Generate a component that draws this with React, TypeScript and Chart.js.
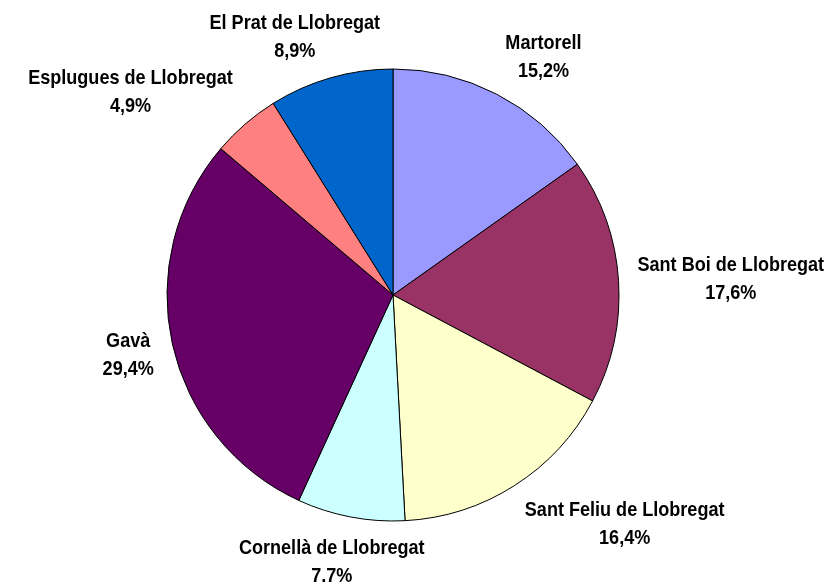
import React, { useEffect, useRef } from "react";
import { Chart, registerables } from "chart.js";

Chart.register(...registerables);

const categories = [
  "Martorell",
  "Sant Boi de Llobregat",
  "Sant Feliu de Llobregat",
  "Cornellà de Llobregat",
  "Gavà",
  "Esplugues de Llobregat",
  "El Prat de Llobregat",
];
const shares = [15.2, 17.6, 16.4, 7.7, 29.4, 4.9, 8.9];
const sliceColors = ["#9999FF", "#993366", "#FFFFCC", "#CCFFFF", "#660066", "#FF8080", "#0066CC"];

const FONT_PX = 21;
const FONT = `bold ${FONT_PX}px "Liberation Sans", Arial, sans-serif`;
const NARROW = 0.86;

const labelPlugin = {
  id: "outsideLabels",
  afterDatasetsDraw(chart: any) {
    const ctx = chart.ctx;
    const meta = chart.getDatasetMeta(0);
    const total = shares.reduce((a, b) => a + b, 0);
    ctx.save();
    ctx.font = FONT;
    ctx.fillStyle = "#000";
    ctx.textAlign = "center";
    ctx.textBaseline = "alphabetic";
    const lineGap = 28;
    const capHalf = FONT_PX * 0.358;
    meta.data.forEach((arc: any, i: number) => {
      const { x, y, startAngle, endAngle, outerRadius } = arc.getProps(
        ["x", "y", "startAngle", "endAngle", "outerRadius"],
        true
      );
      const mid = (startAngle + endAngle) / 2;
      const dx = Math.cos(mid);
      const dy = Math.sin(mid);
      const pct = ((shares[i] / total) * 100).toFixed(1).replace(".", ",") + "%";
      const w =
        Math.max(ctx.measureText(categories[i]).width, ctx.measureText(pct).width) * NARROW;
      const hw = w / 2;
      const hh = 25;
      const r = outerRadius + 19;
      const fx = Math.sign(dx) * Math.min(1, Math.pow(Math.abs(dx) / 0.46, 2));
      const cx = x + r * dx + hw * fx;
      const cy = y + r * dy + hh * dy;
      ctx.save();
      ctx.translate(cx, cy);
      ctx.scale(NARROW, 1);
      ctx.fillText(categories[i], 0, -lineGap / 2 + capHalf);
      ctx.fillText(pct, 0, lineGap / 2 + capHalf);
      ctx.restore();
    });
    ctx.restore();
  },
};

export default function App() {
  const ref = useRef<HTMLCanvasElement | null>(null);
  useEffect(() => {
    if (!ref.current) return;
    const chart = new Chart(ref.current, {
      type: "pie",
      data: {
        labels: categories,
        datasets: [
          {
            data: shares,
            backgroundColor: sliceColors,
            borderColor: "#000000",
            borderWidth: 1,
            hoverOffset: 0,
            radius: 226,
          } as any,
        ],
      },
      options: {
        responsive: false,
        animation: false,
        layout: { padding: { left: 167, right: 207, top: 69, bottom: 61 } },
        plugins: {
          legend: { display: false },
          tooltip: { enabled: false },
          title: { display: false },
        },
      },
      plugins: [labelPlugin],
    });
    return () => chart.destroy();
  }, []);
  return (
    <div style={{ position: "fixed", left: 0, top: 0, width: 826, height: 582, background: "#fff" }}>
      <canvas ref={ref} width={826} height={582} />
    </div>
  );
}
